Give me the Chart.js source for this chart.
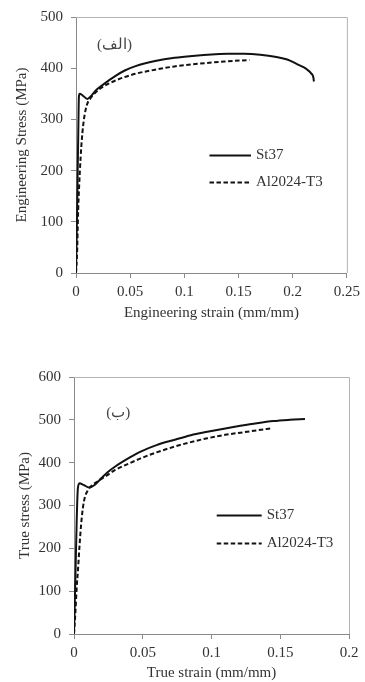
<!DOCTYPE html>
<html>
<head>
<meta charset="utf-8">
<script src="https://cdn.jsdelivr.net/npm/chart.js@4.4.0/dist/chart.umd.min.js"></script>
<style>
  html, body { margin: 0; padding: 0; background: #fff; }
  .panel { position: absolute; left: 0; }
</style>
</head>
<body>
<div class="panel" style="top:0"><canvas id="engChart" width="365" height="330"></canvas></div>
<div class="panel" style="top:340px"><canvas id="trueChart" width="365" height="342"></canvas></div>
<script>
// engineering curves (panel الف)
const engStrainSt37 = [0, 0.001, 0.002, 0.0027, 0.0035, 0.006, 0.0105, 0.0135, 0.018, 0.025, 0.0365, 0.045, 0.055, 0.073, 0.091, 0.11, 0.125, 0.14, 0.155, 0.17, 0.185, 0.195, 0.204, 0.21, 0.2135, 0.217, 0.219, 0.2196];
const engStressSt37 = [0, 120, 260, 345, 350, 347, 340, 345, 356, 368, 385, 395.5, 404, 414, 420.5, 424.5, 426.8, 428, 428.2, 426.5, 422, 417, 408, 402, 397, 390, 383, 374];
const engStrainAl = [0, 0.001, 0.002, 0.0036, 0.005, 0.0067, 0.0097, 0.013, 0.0182, 0.025, 0.0365, 0.0547, 0.073, 0.091, 0.11, 0.137, 0.16];
const engStressAl = [0, 40, 122, 200, 250, 290, 326, 340, 353, 364, 376, 389, 397, 403.5, 408, 413, 416];

// true curves (panel ب)
const trueStrainSt37 = [0, 0.001, 0.002, 0.0028, 0.004, 0.007, 0.011, 0.015, 0.02, 0.0242, 0.03, 0.04, 0.0485, 0.06, 0.0727, 0.085, 0.097, 0.11, 0.121, 0.133, 0.145, 0.157, 0.168];
const trueStressSt37 = [0, 130, 270, 340, 352, 348, 342, 348, 364, 377, 391, 411, 426, 441, 453, 464, 472, 480, 486, 492, 497, 500, 502];
const trueStrainAl = [0, 0.001, 0.002, 0.0029, 0.004, 0.0053, 0.0065, 0.0078, 0.01, 0.013, 0.017, 0.0242, 0.03, 0.04, 0.0485, 0.06, 0.0727, 0.085, 0.097, 0.11, 0.121, 0.133, 0.143];
const trueStressAl = [0, 50, 110, 150, 205, 260, 295, 318, 335, 347, 356, 371, 383, 398, 410, 424, 437, 448, 457, 465, 470, 475.5, 480];

const engXTicks = [0, 0.05, 0.1, 0.15, 0.2, 0.25];
const engYTicks = [0, 100, 200, 300, 400, 500];
const trueXTicks = [0, 0.05, 0.1, 0.15, 0.2];
const trueYTicks = [0, 100, 200, 300, 400, 500, 600];

const textColor = "#333";
const axisColor = "#8a8a8a";
const boxColor = "#b4b4b4";
const serif = "'Liberation Serif', 'Times New Roman', serif";

function zip(xs, ys) {
  return xs.map((x, i) => ({ x: x, y: ys[i] }));
}

// top + right frame lines of the plot area
const frameBox = {
  id: "frameBox",
  beforeDatasetsDraw(chart) {
    const { ctx, chartArea: a } = chart;
    ctx.save();
    ctx.strokeStyle = boxColor;
    ctx.lineWidth = 1;
    ctx.beginPath();
    ctx.moveTo(a.left, a.top + 0.5);
    ctx.lineTo(a.right + 0.5, a.top + 0.5);
    ctx.lineTo(a.right + 0.5, a.bottom);
    ctx.stroke();
    ctx.restore();
  },
};

// legend drawn inside the plot, plus the panel letter
const insideLegend = {
  id: "insideLegend",
  afterDatasetsDraw(chart, args, opts) {
    const { ctx, scales } = chart;
    const x = scales.x, y = scales.y;
    const x0 = x.getPixelForValue(opts.x0);
    const x1 = x.getPixelForValue(opts.x1);
    ctx.save();
    chart.data.datasets.forEach((ds, i) => {
      const py = Math.round(y.getPixelForValue(opts.rows[i])) + 0.5;
      ctx.strokeStyle = ds.borderColor;
      ctx.lineWidth = ds.borderWidth;
      ctx.setLineDash(ds.borderDash || []);
      ctx.beginPath();
      ctx.moveTo(x0, py);
      ctx.lineTo(x1, py);
      ctx.stroke();
      ctx.setLineDash([]);
      ctx.fillStyle = textColor;
      ctx.font = "15px " + serif;
      ctx.textAlign = "left";
      ctx.textBaseline = "middle";
      ctx.fillText(ds.label, x1 + 5, py);
    });
    ctx.fillStyle = "#444";
    ctx.font = "15px " + serif;
    ctx.textAlign = "center";
    ctx.textBaseline = "middle";
    ctx.fillText(opts.tag, x.getPixelForValue(opts.tagAt[0]), y.getPixelForValue(opts.tagAt[1]));
    ctx.restore();
  },
};

function makeChart(id, cfg) {
  const font = { family: serif, size: 15 };
  return new Chart(document.getElementById(id), {
    type: "line",
    data: {
      datasets: [
        {
          label: "St37",
          data: cfg.st37,
          borderColor: "#111",
          borderWidth: 2,
          pointRadius: 0,
          cubicInterpolationMode: "monotone",
        },
        {
          label: "Al2024-T3",
          data: cfg.al,
          borderColor: "#111",
          borderWidth: 2,
          borderDash: [4.5, 2.5],
          pointRadius: 0,
          cubicInterpolationMode: "monotone",
        },
      ],
    },
    options: {
      responsive: false,
      animation: false,
      events: [],
      layout: { padding: cfg.padding },
      plugins: {
        legend: { display: false },
        tooltip: { enabled: false },
        insideLegend: cfg.legend,
      },
      scales: {
        x: {
          type: "linear",
          min: cfg.xTicks[0],
          max: cfg.xTicks[cfg.xTicks.length - 1],
          afterBuildTicks: (s) => { s.ticks = cfg.xTicks.map((v) => ({ value: v })); },
          afterFit: (s) => { s.height = cfg.xHeight; },
          grid: { drawOnChartArea: false, drawTicks: true, tickLength: 5, color: axisColor },
          border: { color: axisColor, width: 1 },
          ticks: { color: textColor, font: font, padding: 5, maxRotation: 0, callback: (v) => String(v) },
          title: { display: true, text: cfg.xTitle, color: textColor, font: font, padding: { top: 0, bottom: cfg.xTitlePad } },
        },
        y: {
          type: "linear",
          min: cfg.yTicks[0],
          max: cfg.yTicks[cfg.yTicks.length - 1],
          afterBuildTicks: (s) => { s.ticks = cfg.yTicks.map((v) => ({ value: v })); },
          afterFit: (s) => { s.width = cfg.yWidth; },
          grid: { drawOnChartArea: false, drawTicks: true, tickLength: 5, color: axisColor },
          border: { color: axisColor, width: 1 },
          ticks: { color: textColor, font: font, padding: 8, callback: (v) => String(v) },
          title: { display: true, text: cfg.yTitle, color: textColor, font: font, padding: { top: cfg.yTitlePad, bottom: 0 } },
        },
      },
    },
    plugins: [frameBox, insideLegend],
  });
}

makeChart("engChart", {
  st37: zip(engStrainSt37, engStressSt37),
  al: zip(engStrainAl, engStressAl),
  xTicks: engXTicks,
  yTicks: engYTicks,
  padding: { top: 14, right: 15, left: 0, bottom: 0 },
  xHeight: 57,
  yWidth: 76,
  xTitle: "Engineering strain (mm/mm)",
  yTitle: "Engineering Stress (MPa)",
  xTitlePad: 8,
  yTitlePad: 13,
  legend: { x0: 0.1232, x1: 0.1615, rows: [231, 178], tag: "(الف)", tagAt: [0.0356, 446] },
});

makeChart("trueChart", {
  st37: zip(trueStrainSt37, trueStressSt37),
  al: zip(trueStrainAl, trueStressAl),
  xTicks: trueXTicks,
  yTicks: trueYTicks,
  padding: { top: 37, right: 16, left: 0, bottom: 0 },
  xHeight: 48,
  yWidth: 74,
  xTitle: "True strain (mm/mm)",
  yTitle: "True stress (MPa)",
  xTitlePad: 0,
  yTitlePad: 16,
  legend: { x0: 0.1038, x1: 0.1365, rows: [277, 212], tag: "(ب)", tagAt: [0.0322, 516] },
});
</script>
</body>
</html>
